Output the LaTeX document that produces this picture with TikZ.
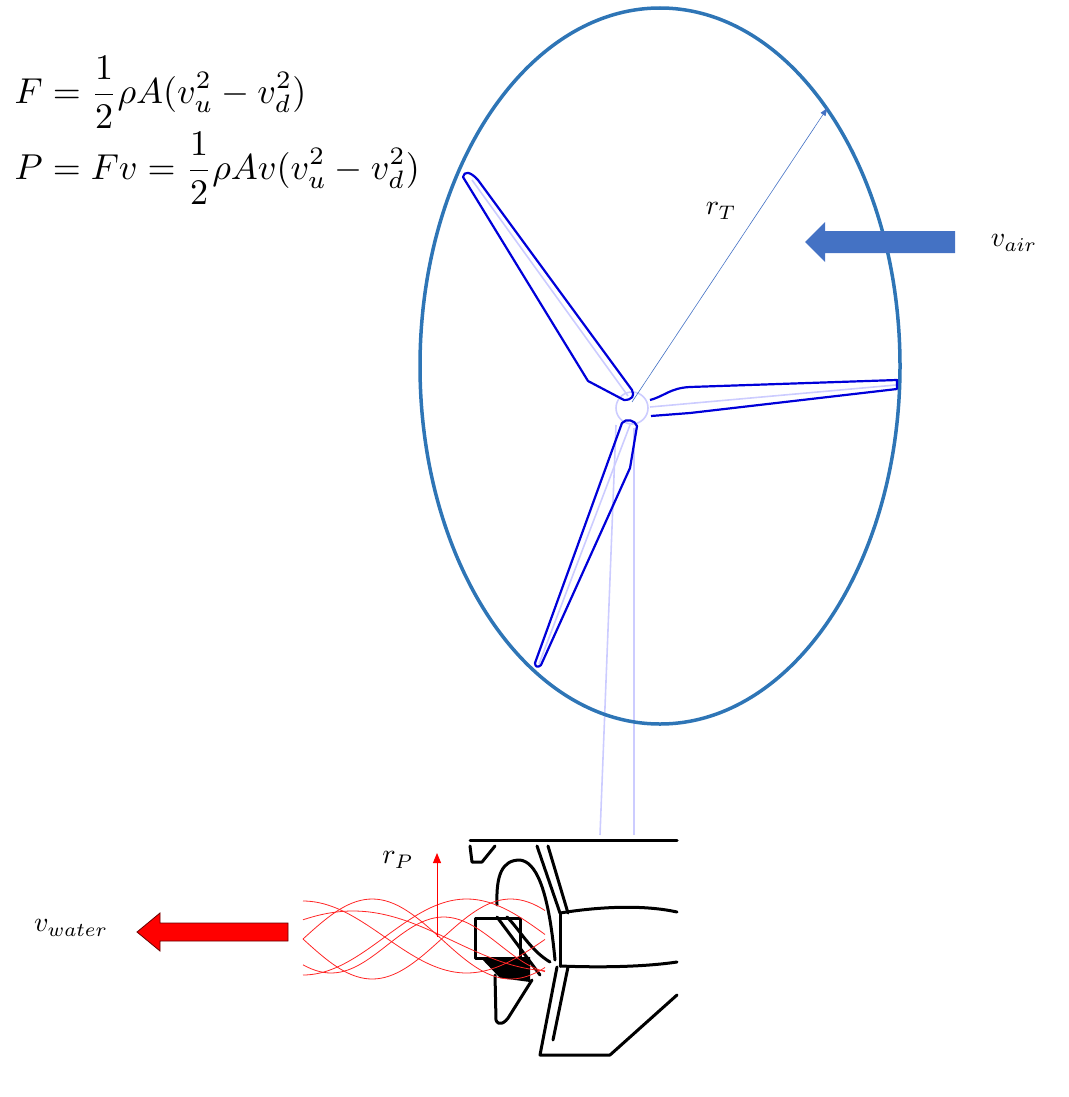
\documentclass[tikz,border=0pt]{standalone}
\usepackage{amsmath}
\usetikzlibrary{arrows.meta}
\definecolor{rim}{RGB}{46,117,182}
\definecolor{airblue}{RGB}{68,114,196}
\begin{document}
\begin{tikzpicture}[x=1pt,y=-1pt,
  blade/.style={draw=blue!85!black,line width=2.2pt,line join=round},
  faint/.style={draw=blue!20,line width=1.6pt},
  blk/.style={draw=black,line width=3pt,line join=round,line cap=round},
  stream/.style={draw=red!85,line width=0.8pt},
  lbl/.style={scale=2.8}]
\useasboundingbox (0,0) rectangle (1068,1097);
% equations
\node[anchor=west,scale=3.6] (eqF) at (2,92) {$\displaystyle F=\frac{1}{2}\rho A(v_u^2-v_d^2)$};
\node[anchor=west,scale=3.6] (eqP) at (2,168) {$\displaystyle P=Fv=\frac{1}{2}\rho Av(v_u^2-v_d^2)$};
% tower
\draw[faint] (600,835) -- (616,425);
\draw[faint] (634,835) -- (634,428);
% rotor disc
\draw[draw=rim,line width=3.5pt] (660,366) ellipse [x radius=240, y radius=358];
% faint blade centre lines and hub
\draw[faint] (472,180) -- (628,396);
\draw[faint] (650,407) -- (896,385);
\draw[faint] (630,425) -- (539,664);
\draw[faint] (632,408) circle (16);
% blades
\draw[blade] (463,177) .. controls (464,171) and (470,171) .. (478,180) -- (632,390) .. controls (635,396) and (632,400) .. (624,400) -- (588,381) -- cycle;
\draw[blade] (650,400) .. controls (665,396) and (670,388) .. (690,387) -- (897,380) -- (897,389) -- (690,413) -- (651,416);
\draw[blade] (622,423) .. controls (626,418) and (635,420) .. (637,426) -- (630,468) -- (541,665) .. controls (538,668) and (535,667) .. (535,663) -- cycle;
% radius arrow
\coordinate (hub) at (632,402);
\coordinate (rimpt) at (828,107);
\draw[draw=airblue,line width=0.6pt,-{Latex[length=9pt,width=6pt]}] (hub) -- (rimpt);
\node[lbl] (rT) at (721,211) {$r_T$};
% air arrow
\fill[airblue] (955,231) -- (825,231) -- (825,222) -- (805,242) -- (825,262) -- (825,253) -- (955,253) -- cycle;
\node[lbl] (vair) at (1014,243) {$v_{air}$};
% propeller drawing
\draw[blk] (470,840) -- (677,840);
\draw[blk] (470,846) -- (472,862) -- (482,862) -- (495,846);
\draw[blk] (537,846) -- (560,913);
\draw[blk] (548,846) -- (568,913);
\draw[blk] (560,913) .. controls (610,905) and (650,906) .. (677,912);
\draw[blk] (560,966) .. controls (610,968) and (650,966) .. (677,962);
\draw[blk] (560,913) -- (560,966);
\draw[blk] (557,967) -- (540,1055) -- (610,1055) -- (677,995);
\draw[blk] (568,967) -- (553,1040);
\draw[blk] (475,918) rectangle (520,958);
\draw[blk] (497,905) .. controls (496,875) and (502,860) .. (520,860) .. controls (535,862) and (548,885) .. (555,960);
\draw[blk] (497,917) -- (540,975);
\draw[blk] (507,917) .. controls (520,930) and (530,950) .. (550,962);
\fill (480,957) -- (530,957) -- (530,982) -- (500,978) -- cycle;
\draw[blk] (495,975) -- (496,1020) .. controls (498,1026) and (505,1024) .. (510,1015) -- (532,980);
% streamlines
\foreach \ph/\a/\c/\k in {0/40/939/1.3, 90/38/937/1.1, 180/40/939/1.3, 270/36/937/1.1, 45/28/945/1.6, 225/30/941/0.9}{
  \draw[stream] plot[domain=303:545,samples=60,smooth] (\x,{\c+\a*sin((\x-303)*\k+\ph)});
}
% r_P arrow
\coordinate (rp0) at (437,937);
\coordinate (rp1) at (437,853);
\draw[red,line width=0.9pt,-{Triangle[length=10pt,width=8pt]}] (rp0) -- (rp1);
\node[lbl] (rP) at (398,860) {$r_P$};
% water arrow
\draw[fill=red,draw=red!40!black,line width=0.8pt] (288,923) -- (160,923) -- (160,913) -- (137,932) -- (160,951) -- (160,941) -- (288,941) -- cycle;
\node[lbl] (vw) at (71,928) {$v_{water}$};
\end{tikzpicture}
\end{document}
